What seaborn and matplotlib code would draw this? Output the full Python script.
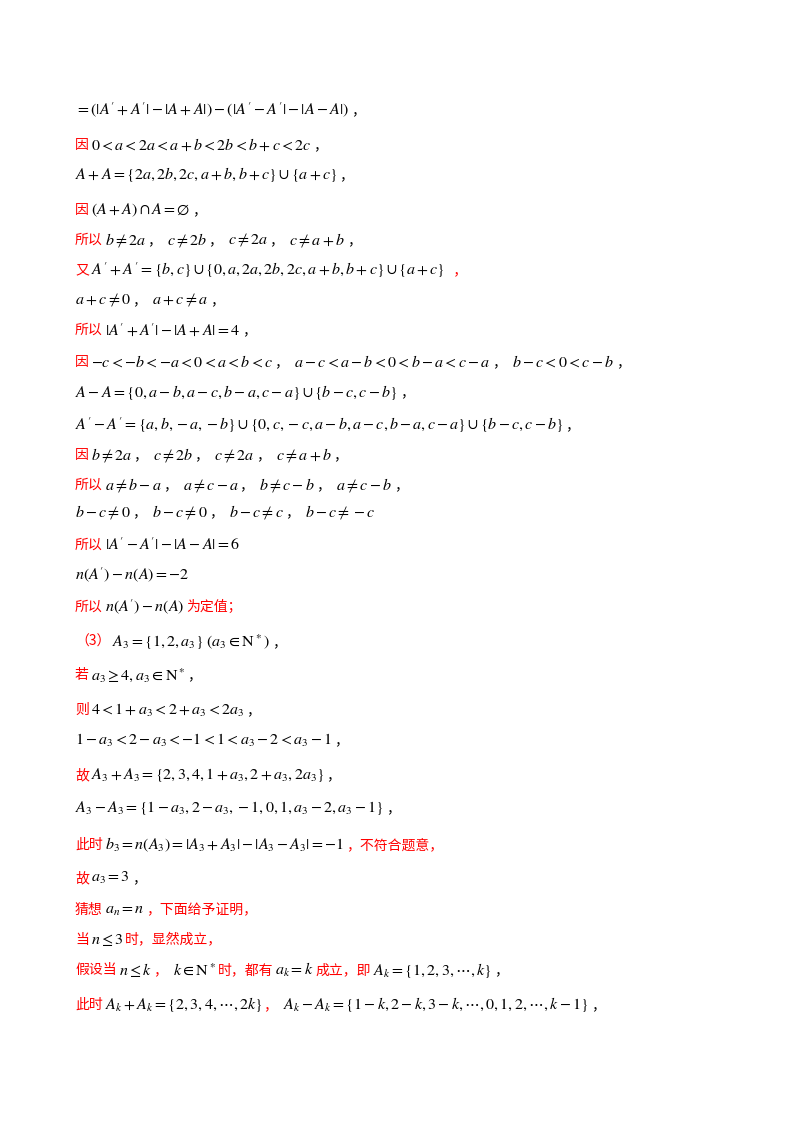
import matplotlib.pyplot as plt
import seaborn as sns

sns.set_theme(style="white")
plt.rcParams['font.family'] = ['Noto Sans CJK SC', 'DejaVu Sans']
plt.rcParams['mathtext.fontset'] = 'stix'

R = '#ff0000'
K = '#000000'

# each line: (y pixel, [(text, colour), ...])
lines = [
    (110, [(r"$=\left(|A'+A'|-|A+A|\right)-\left(|A'-A'|-|A-A|\right)$", K), ("，", K)]),
    (145, [("因", R), (r"$0<a<2a<a+b<2b<b+c<2c$", K), ("，", K)]),
    (175, [(r"$A+A=\{2a,2b,2c,a+b,b+c\}\cup\{a+c\}$", K), ("，", K)]),
    (210, [("因", R), (r"$(A+A)\cap A=\emptyset$", K), ("，", K)]),
    (240, [("所以", R), (r"$b\neq 2a$", K), ("， ", K), (r"$c\neq 2b$", K), ("， ", K),
           (r"$c\neq 2a$", K), ("， ", K), (r"$c\neq a+b$", K), ("，", K)]),
    (270, [("又", R), (r"$A'+A'=\{b,c\}\cup\{0,a,2a,2b,2c,a+b,b+c\}\cup\{a+c\}$", K), ("  ，", R)]),
    (300, [(r"$a+c\neq 0$", K), ("， ", K), (r"$a+c\neq a$", K), ("，", K)]),
    (330, [("所以", R), (r"$|A'+A'|-|A+A|=4$", K), ("，", K)]),
    (362, [("因", R), (r"$-c<-b<-a<0<a<b<c$", K), ("， ", K),
           (r"$a-c<a-b<0<b-a<c-a$", K), ("， ", K), (r"$b-c<0<c-b$", K), ("，", K)]),
    (392, [(r"$A-A=\{0,a-b,a-c,b-a,c-a\}\cup\{b-c,c-b\}$", K), ("，", K)]),
    (425, [(r"$A'-A'=\{a,b,-a,-b\}\cup\{0,c,-c,a-b,a-c,b-a,c-a\}\cup\{b-c,c-b\}$", K), ("，", K)]),
    (455, [("因", R), (r"$b\neq 2a$", K), ("， ", K), (r"$c\neq 2b$", K), ("， ", K),
           (r"$c\neq 2a$", K), ("， ", K), (r"$c\neq a+b$", K), ("，", K)]),
    (485, [("所以", R), (r"$a\neq b-a$", K), ("， ", K), (r"$a\neq c-a$", K), ("， ", K),
           (r"$b\neq c-b$", K), ("， ", K), (r"$a\neq c-b$", K), ("，", K)]),
    (512, [(r"$b-c\neq 0$", K), ("， ", K), (r"$b-c\neq 0$", K), ("， ", K),
           (r"$b-c\neq c$", K), ("， ", K), (r"$b-c\neq -c$", K)]),
    (545, [("所以", R), (r"$|A'-A'|-|A-A|=6$", K)]),
    (575, [(r"$n(A')-n(A)=-2$", K)]),
    (607, [("所以", R), (r"$n(A')-n(A)$", K), ("为定值；", R)]),
    (642, [("（3）", R), (r"$A_3=\{1,2,a_3\}\ (a_3\in\mathrm{N}^*)$", K), ("，", K)]),
    (675, [("若", R), (r"$a_3\geq 4,a_3\in\mathrm{N}^*$", K), ("，", K)]),
    (710, [("则", R), (r"$4<1+a_3<2+a_3<2a_3$", K), ("，", K)]),
    (740, [(r"$1-a_3<2-a_3<-1<1<a_3-2<a_3-1$", K), ("，", K)]),
    (775, [("故", R), (r"$A_3+A_3=\{2,3,4,1+a_3,2+a_3,2a_3\}$", K), ("，", K)]),
    (808, [(r"$A_3-A_3=\{1-a_3,2-a_3,-1,0,1,a_3-2,a_3-1\}$", K), ("，", K)]),
    (845, [("此时", R), (r"$b_3=n(A_3)=|A_3+A_3|-|A_3-A_3|=-1$", K), ("，不符合题意，", R)]),
    (878, [("故", R), (r"$a_3=3$", K), ("，", K)]),
    (910, [("猜想", R), (r"$a_n=n$", K), ("，下面给予证明，", R)]),
    (940, [("当", R), (r"$n\leq 3$", K), ("时，显然成立，", R)]),
    (970, [("假设当", R), (r"$n\leq k$", K), ("， ", R), (r"$k\in\mathrm{N}^*$", K), ("时，都有", R),
           (r"$a_k=k$", K), ("成立，即", R), (r"$A_k=\{1,2,3,\cdots,k\}$", K), ("，", K)]),
    (1005, [("此时", R), (r"$A_k+A_k=\{2,3,4,\cdots,2k\}$", K), ("， ", R),
            (r"$A_k-A_k=\{1-k,2-k,3-k,\cdots,0,1,2,\cdots,k-1\}$", K), ("，", K)]),
]

W, H = 800, 1132
fig = plt.figure(figsize=(W / 100, H / 100), dpi=100, facecolor='white')
ax = fig.add_axes([0, 0, 1, 1])
ax.set_xlim(0, W)
ax.set_ylim(H, 0)
ax.axis('off')
fig.canvas.draw()
renderer = fig.canvas.get_renderer()

for y, segs in lines:
    x = 75
    for txt, col in segs:
        size = 11.5 if txt.startswith('$') else 10
        t = ax.text(x, y, txt, color=col, fontsize=size, va='center', ha='left')
        bb = t.get_window_extent(renderer)
        x += bb.width + 2

fig.savefig('out.png', dpi=100, facecolor='white')
